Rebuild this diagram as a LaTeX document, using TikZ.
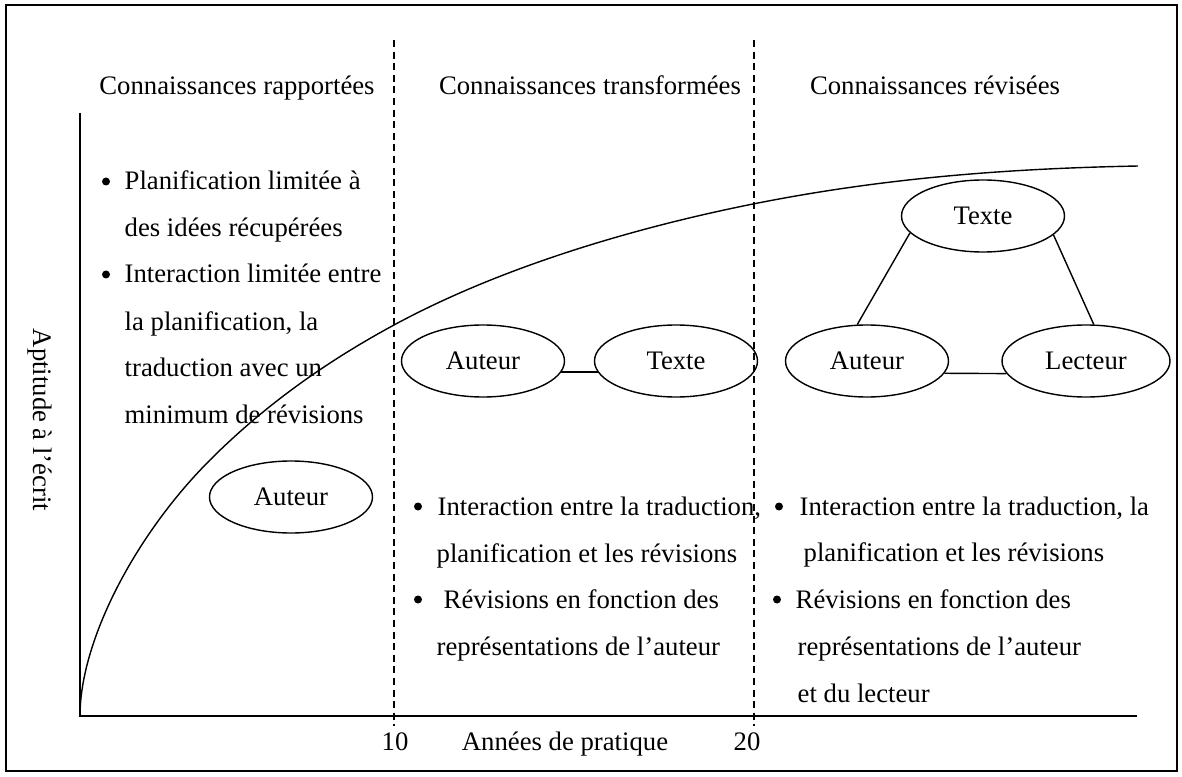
\documentclass[tikz,border=0pt]{standalone}
\usepackage{fontspec}
\setmainfont{Liberation Serif}
\usetikzlibrary{shapes.geometric}

\begin{document}
\begin{tikzpicture}[role/.style = {draw, ellipse, minimum width=3.26cm, minimum height=1.44cm, inner sep=0pt}, txt/.style = {anchor=base west, inner sep=0pt}, bul/.style = {circle, fill = black, inner sep=0pt, minimum size=0.16cm}, line width=0.8pt, font=\fontsize{15.2}{18}\selectfont]
	\useasboundingbox (0,0) rectangle (23.64,15.52);
	\draw (0.12,0.10) rectangle (23.54,15.42);
	% axes
	\coordinate (O) at (1.60,1.20);
	\coordinate (Ytop) at (1.60,13.26);
	\coordinate (Xend) at (22.74,1.20);
	\draw[line width=1.1pt] (Ytop) -- (O) -- (Xend);
	\coordinate (D1t) at (7.88,14.72);
	\coordinate (D1b) at (7.88,1.00);
	\coordinate (D2t) at (15.08,14.72);
	\coordinate (D2b) at (15.08,1.00);
	\draw[dash pattern=on 4pt off 2.6pt] (D1t) -- (D1b) (D2t) -- (D2b);
	\node[anchor=base] (t10) at (7.90,0.52) {10};
	\node[anchor=base] (xlab) at (11.30,0.52) {Années de pratique};
	\node[anchor=base] (t20) at (14.94,0.52) {20};
	\node[rotate=-90] (ylab) at (0.80,7.12) {Aptitude à l’écrit};
	% curve
	\coordinate (C1) at (4.20,6.32);
	\coordinate (C2) at (7.88,9.02);
	\coordinate (C3) at (15.06,11.44);
	\coordinate (C4) at (22.76,12.20);
	\draw (O) .. controls (1.60,2.70) and (2.70,4.82) .. (C1)
		.. controls (5.40,7.52) and (6.68,8.37) .. (C2)
		.. controls (10.00,10.17) and (12.66,10.96) .. (C3)
		.. controls (17.66,11.96) and (20.16,12.15) .. (C4);
	% headers
	\node[anchor=base] (h1) at (4.74,13.62) {Connaissances rapportées};
	\node[anchor=base] (h2) at (11.80,13.62) {Connaissances transformées};
	\node[anchor=base] (h3) at (18.70,13.62) {Connaissances révisées};
	% left column
	\foreach \y/\t [count=\i] in {11.72/{Planification limitée à}, 10.78/{des idées récupérées}, 9.86/{Interaction limitée entre}, 8.92/{la planification, la}, 8.00/{traduction avec un}, 7.06/{minimum de révisions}}
		\node[txt] (g\i) at (2.48,\y) {\t};
	\node[bul] (gb1) at (2.12,11.89) {};
	\node[bul] (gb2) at (2.12,10.03) {};
	% middle column
	\foreach \x/\y/\t [count=\i] in {8.74/5.22/{Interaction entre la traduction,}, 8.72/4.28/{planification et les révisions}, 8.86/3.36/{Révisions en fonction des}, 8.72/2.42/{représentations de l’auteur}}
		\node[txt] (m\i) at (\x,\y) {\t};
	\node[bul] (mb1) at (8.36,5.39) {};
	\node[bul] (mb2) at (8.36,3.53) {};
	% right column
	\foreach \x/\y/\t [count=\i] in {15.98/5.22/{Interaction entre la traduction, la}, 16.06/4.30/{planification et les révisions}, 15.90/3.36/{Révisions en fonction des}, 15.94/2.42/{représentations de l’auteur}, 15.94/1.48/{et du lecteur}}
		\node[txt] (r\i) at (\x,\y) {\t};
	\node[bul] (rb1) at (15.58,5.39) {};
	\node[bul] (rb2) at (15.54,3.53) {};
	% roles
	\node[role] (A1) at (5.82,5.58) {Auteur};
	\node[role] (A2) at (9.66,8.30) {Auteur};
	\node[role] (T2) at (13.52,8.30) {Texte};
	\node[role] (T3) at (19.66,11.20) {Texte};
	\node[role] (A3) at (17.34,8.30) {Auteur};
	\node[role, minimum width=3.36cm] (L3) at (21.72,8.30) {Lecteur};
	\draw (A2.-8) -- (T2.188);
	\draw (T3.193) -- (A3.105) (T3.-15) -- (L3.78) (A3.-9) -- (L3.189);
\end{tikzpicture}
\end{document}
